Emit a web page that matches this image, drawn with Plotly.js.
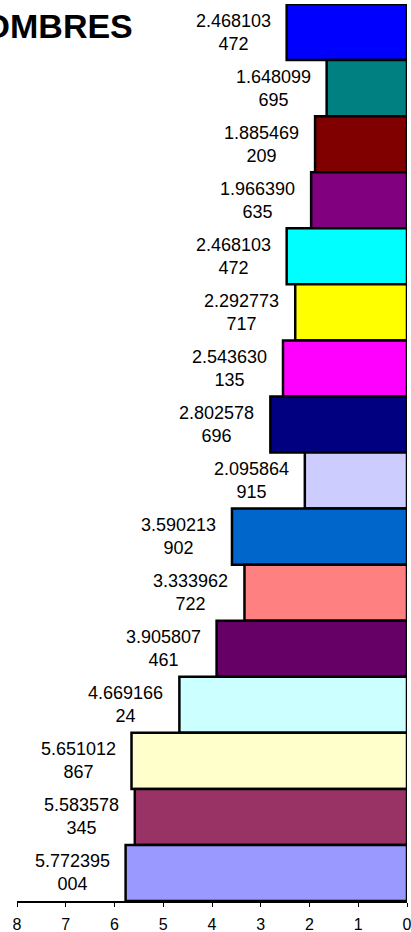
<!DOCTYPE html>
<html>
<head>
<meta charset="utf-8">
<script src="https://cdn.plot.ly/plotly-3.0.1.min.js"></script>
<style>
html,body{margin:0;padding:0;background:#fff;}
#chart{width:411px;height:932px;}
</style>
</head>
<body>
<div id="chart"></div>
<script>
// Data (top to bottom as drawn)
var categories = ["75+","70-74","65-69","60-64","55-59","50-54","45-49","40-44","35-39","30-34","25-29","20-24","15-19","10-14","5-9","0-4"];
var values = [2.468103472, 1.648099695, 1.885469209, 1.966390635, 2.468103472, 2.292773717, 2.543630135, 2.802578696, 2.095864915, 3.590213902, 3.333962722, 3.905807461, 4.66916624, 5.651012867, 5.583578345, 5.772395004];
var barColors = ["#0000FF","#008080","#800000","#800080","#00FFFF","#FFFF00","#FF00FF","#000080","#CCCCFF","#0066CC","#FF8080","#660066","#CCFFFF","#FFFFCC","#993366","#9999FF"];
var tickVals = [0,1,2,3,4,5,6,7,8];
var titleText = "HOMBRES";

var FONT = "Arial, 'Liberation Sans', sans-serif";

var labels = values.map(function(v){
  var s = String(v);
  return s.slice(0,8) + "<br>" + s.slice(8);
});

var trace = {
  type: "bar",
  orientation: "h",
  x: values,
  y: categories,
  marker: {color: barColors, line: {color: "#000000", width: 2.5}},
  hoverinfo: "none"
};

var annotations = values.map(function(v,i){
  return {
    x: v, y: categories[i], xref: "x", yref: "y",
    text: labels[i], showarrow: false,
    xanchor: "right", yanchor: "middle", align: "center",
    xshift: -14,
    font: {family: FONT, size: 18, color: "#000000"}
  };
});
annotations.push({
  xref: "paper", yref: "paper", x: 0.3026, y: 0.9755,
  xanchor: "right", yanchor: "middle", showarrow: false,
  text: "<b>" + titleText + "</b>",
  font: {family: FONT, size: 34, color: "#000000"}
});

var layout = {
  width: 411, height: 932,
  margin: {l: 17, r: 4, t: 4, b: 31, pad: 0},
  paper_bgcolor: "#ffffff", plot_bgcolor: "#ffffff",
  showlegend: false,
  bargap: 0,
  xaxis: {
    range: [8, 0], autorange: false,
    tickmode: "array", tickvals: tickVals, ticktext: tickVals.map(String),
    showgrid: false, zeroline: false,
    showline: true, linecolor: "#000000", linewidth: 1.5,
    ticks: "outside", ticklen: 4, tickwidth: 1, tickcolor: "#000000",
    ticklabelstandoff: 4, ticklabeloverflow: "allow",
    tickfont: {family: FONT, size: 16, color: "#000000"},
    fixedrange: true
  },
  yaxis: {
    type: "category", categoryorder: "array", categoryarray: categories,
    autorange: "reversed",
    showticklabels: false, showgrid: false, zeroline: false, showline: false, ticks: "",
    fixedrange: true
  },
  annotations: annotations
};

Plotly.newPlot("chart", [trace], layout, {displayModeBar: false, staticPlot: true});
</script>
</body>
</html>
